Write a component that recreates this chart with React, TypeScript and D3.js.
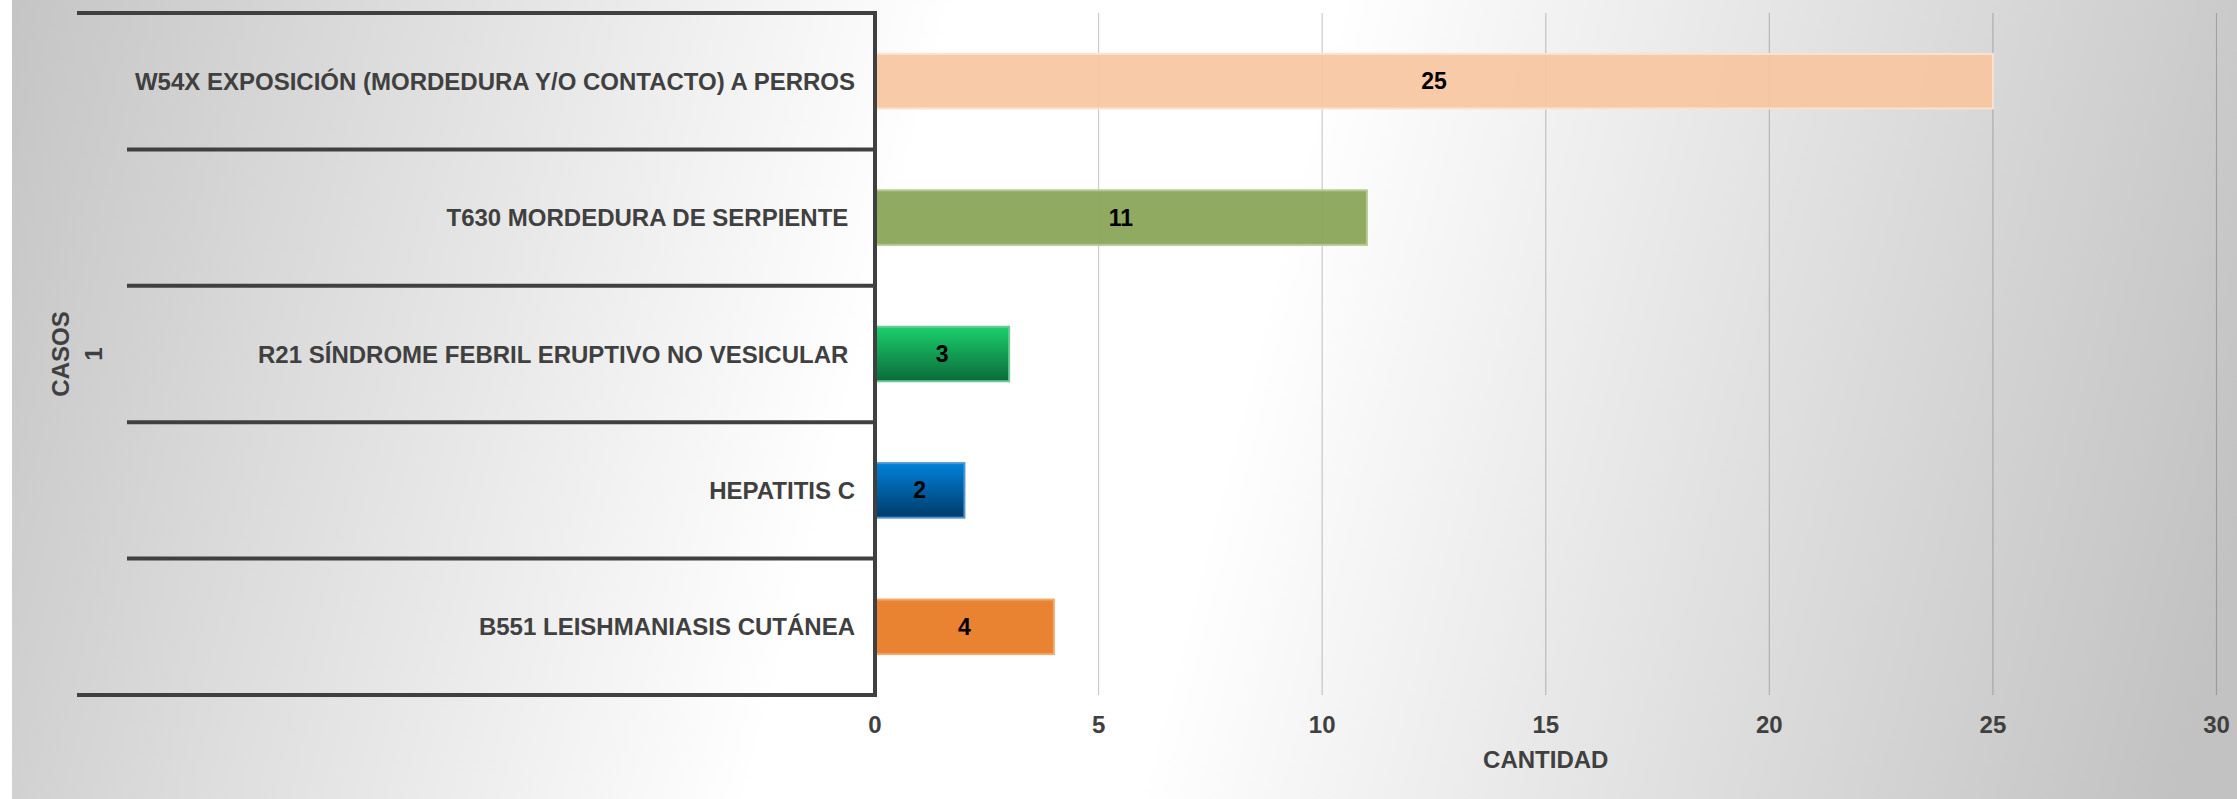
import React from "react";
import * as d3 from "d3";

const categories = [
  "W54X EXPOSICIÓN (MORDEDURA Y/O CONTACTO) A PERROS",
  "T630 MORDEDURA DE SERPIENTE ",
  "R21 SÍNDROME FEBRIL ERUPTIVO NO VESICULAR ",
  "HEPATITIS C",
  "B551 LEISHMANIASIS CUTÁNEA",
];
const values = [25, 11, 3, 2, 4];
const xTicks = [0, 5, 10, 15, 20, 25, 30];
const outerCategory = "1";
const yTitle = "CASOS";
const xTitle = "CANTIDAD";

const barFills = ["#F8C6A0", "#8AA55A", "url(#gGreen)", "url(#gBlue)", "#E98231"];
const barStrokes = ["#FBE2CE", "#B3C895", "#6CCB98", "#4F95D0", "#F4A86C"];
const barOpacity = [0.92, 0.95, 1, 1, 1];

const W = 2237;
const H = 799;
const FONT = "'Liberation Sans', Arial, Helvetica, sans-serif";

export default function App() {
  const x = d3.scaleLinear().domain([0, 30]).range([875, 2216.5]);
  const yRows = d3.scaleBand<string>().domain(categories).range([13, 695]).padding(0);
  const yBars = d3
    .scaleBand<string>()
    .domain(categories)
    .range([13, 695])
    .paddingInner(0.6)
    .paddingOuter(0.3);

  const boundaries = [...categories.map((c) => yRows(c) as number), 695];
  const lineColor = "#404040";

  return (
    <svg
      width={W}
      height={H}
      style={{ position: "absolute", left: 0, top: 0, display: "block" }}
    >
      <defs>
        <linearGradient
          id="bg"
          gradientUnits="userSpaceOnUse"
          x1={-60}
          y1={110}
          x2={2200}
          y2={690}
        >
          <stop offset="0" stopColor="#c2c2c2" />
          <stop offset="0.41" stopColor="#ffffff" />
          <stop offset="0.57" stopColor="#ffffff" />
          <stop offset="1" stopColor="#c2c2c2" />
        </linearGradient>
        <linearGradient id="gGreen" x1="0" y1="0" x2="0" y2="1">
          <stop offset="0" stopColor="#1AD06D" />
          <stop offset="1" stopColor="#0C6A3A" />
        </linearGradient>
        <linearGradient id="gBlue" x1="0" y1="0" x2="0" y2="1">
          <stop offset="0" stopColor="#0082D9" />
          <stop offset="1" stopColor="#003B69" />
        </linearGradient>
      </defs>

      <rect x={0} y={0} width={W} height={H} fill="#ffffff" />
      <rect x={12} y={0} width={W - 12} height={H} fill="url(#bg)" />

      {/* gridlines */}
      {xTicks.slice(1).map((t) => (
        <line
          key={"g" + t}
          x1={x(t)}
          x2={x(t)}
          y1={13}
          y2={695}
          stroke="#000"
          strokeOpacity={0.2}
          strokeWidth={1.2}
        />
      ))}

      {/* bars */}
      {categories.map((c, i) => {
        const y0 = yBars(c) as number;
        const bw = yBars.bandwidth();
        return (
          <g key={"b" + i}>
            <rect
              x={x(0)}
              y={y0}
              width={x(values[i]) - x(0)}
              height={bw}
              fill={barFills[i]}
              fillOpacity={barOpacity[i]}
              stroke={barStrokes[i]}
              strokeWidth={2}
            />
            <text
              x={(x(0) + x(values[i])) / 2}
              y={y0 + bw / 2}
              textAnchor="middle"
              dominantBaseline="central"
              fontFamily={FONT}
              fontWeight="bold"
              fontSize={23}
              fill="#000"
            >
              {values[i]}
            </text>
          </g>
        );
      })}

      {/* category separators */}
      {boundaries.map((b, i) => (
        <line
          key={"s" + i}
          x1={i === 0 || i === boundaries.length - 1 ? 77 : 127}
          x2={877}
          y1={b}
          y2={b}
          stroke={lineColor}
          strokeWidth={4}
        />
      ))}
      {/* axis line */}
      <line x1={875} x2={875} y1={11} y2={697} stroke={lineColor} strokeWidth={4} />

      {/* category labels */}
      {categories.map((c, i) => (
        <text
          key={"l" + i}
          x={855}
          y={(yRows(c) as number) + yRows.bandwidth() / 2}
          textAnchor="end"
          dominantBaseline="central"
          fontFamily={FONT}
          fontWeight="bold"
          fontSize={24}
          fill="#404040"
          style={{ whiteSpace: "pre" }}
        >
          {c}
        </text>
      ))}

      {/* outer category and y title */}
      <text
        transform={`translate(93, 354) rotate(-90)`}
        textAnchor="middle"
        dominantBaseline="central"
        fontFamily={FONT}
        fontWeight="bold"
        fontSize={24}
        fill="#404040"
      >
        {outerCategory}
      </text>
      <text
        transform={`translate(60, 354) rotate(-90)`}
        textAnchor="middle"
        dominantBaseline="central"
        fontFamily={FONT}
        fontWeight="bold"
        fontSize={24}
        fill="#404040"
      >
        {yTitle}
      </text>

      {/* x tick labels */}
      {xTicks.map((t) => (
        <text
          key={"t" + t}
          x={x(t)}
          y={724}
          textAnchor="middle"
          dominantBaseline="central"
          fontFamily={FONT}
          fontWeight="bold"
          fontSize={24}
          fill="#404040"
        >
          {t}
        </text>
      ))}
      <text
        x={(x(0) + x(30)) / 2}
        y={759}
        textAnchor="middle"
        dominantBaseline="central"
        fontFamily={FONT}
        fontWeight="bold"
        fontSize={24}
        fill="#404040"
      >
        {xTitle}
      </text>
    </svg>
  );
}
